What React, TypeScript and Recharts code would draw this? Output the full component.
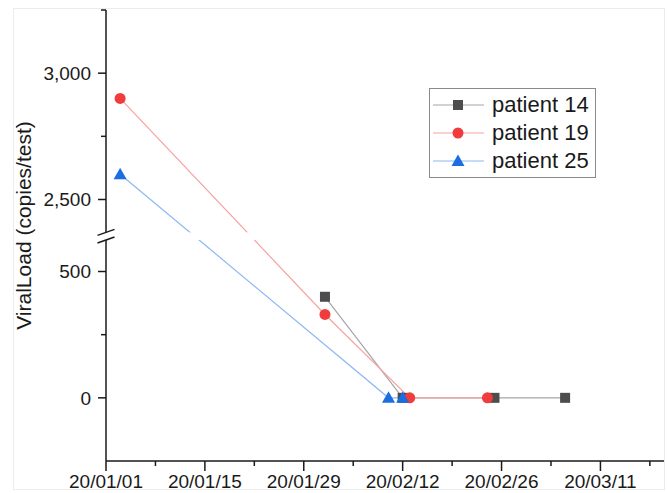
import { LineChart, Line, XAxis, YAxis, ReferenceArea } from "recharts";

// sample dates and viral load (copies/test) per patient
const P14_DATES = ["2020-02-01", "2020-02-12", "2020-02-25", "2020-03-06"];
const P14_LOAD = [400, 0, 0, 0];
const P19_DATES = ["2020-01-03", "2020-02-01", "2020-02-13", "2020-02-24"];
const P19_LOAD = [2900, 330, 0, 0];
const P25_DATES = ["2020-01-03", "2020-02-10", "2020-02-12"];
const P25_LOAD = [2600, 0, 0];

const X_LABELS = ["20/01/01", "20/01/15", "20/01/29", "20/02/12", "20/02/26", "20/03/11"];
const Y_MAJOR = [0, 500, 2500, 3000];
const Y_MINOR = [250, 2750, 3250];

// broken y axis: lower part up to LOW_TOP, upper part from HIGH_BOTTOM
const Y_MIN = -250;
const Y_MAX = 3250;
const LOW_TOP = 625;
const HIGH_BOTTOM = 2370;
const GAP = 30;
const disp = (v: number) => (v <= LOW_TOP ? v : v - HIGH_BOTTOM + LOW_TOP + GAP);
const undisp = (d: number) => (d <= LOW_TOP ? d : d + HIGH_BOTTOM - LOW_TOP - GAP);

const START = Date.UTC(2020, 0, 1);
const toDay = (s: string) => Math.round((Date.parse(s) - START) / 86400000);
const X_END = 79;

const FONT = '"Liberation Sans", Arial, sans-serif';
const INK = "#1a1a1a";

const build = (dates: string[], load: number[]) =>
  dates.map((d, i) => ({ day: toDay(d), v: disp(load[i]) }));

const SERIES = [
  { name: "patient 14", data: build(P14_DATES, P14_LOAD), line: "#a6a6a6", mark: "#4d4d4d", shape: "square" },
  { name: "patient 19", data: build(P19_DATES, P19_LOAD), line: "#f5a3a3", mark: "#f03c3c", shape: "circle" },
  { name: "patient 25", data: build(P25_DATES, P25_LOAD), line: "#8db8f2", mark: "#1c6ee0", shape: "triangle" },
];

function Marker({ shape, cx, cy, fill }: { shape: string; cx: number; cy: number; fill: string }) {
  if (shape === "square") return <rect x={cx - 5} y={cy - 5} width={10} height={10} fill={fill} />;
  if (shape === "circle") return <circle cx={cx} cy={cy} r={5.5} fill={fill} />;
  return <polygon points={`${cx},${cy - 6.5} ${cx + 6.5},${cy + 5} ${cx - 6.5},${cy + 5}`} fill={fill} />;
}

const yTicks = [...Y_MAJOR, ...Y_MINOR].map(disp).sort((a, b) => a - b);
const xTicks = Array.from({ length: Math.floor(X_END / 7) + 1 }, (_, i) => i * 7);

function YTick({ x, y, payload }: any) {
  const real = undisp(payload.value);
  const major = Y_MAJOR.includes(real);
  return (
    <g>
      <line x1={x - (major ? 8 : 5)} x2={x} y1={y} y2={y} stroke={INK} strokeWidth={1.5} />
      {major && (
        <text x={x - 15} y={y} dy="0.36em" textAnchor="end" fontSize={19} fill={INK} fontFamily={FONT}>
          {real.toLocaleString("en-US")}
        </text>
      )}
    </g>
  );
}

function XTick({ x, y, payload }: any) {
  const major = payload.value % 14 === 0;
  return (
    <g>
      <line x1={x} x2={x} y1={y} y2={y + (major ? 10 : 5)} stroke={INK} strokeWidth={1.5} />
      {major && (
        <text x={x} y={y + 27} textAnchor="middle" fontSize={19} fill={INK} fontFamily={FONT}>
          {X_LABELS[payload.value / 14]}
        </text>
      )}
    </g>
  );
}

function BreakMark(props: any) {
  const { x, y, width, height } = props;
  const slash = (yc: number) => (
    <line x1={x - 8.5} y1={yc + 3} x2={x + 8.5} y2={yc - 3} stroke={INK} strokeWidth={1.5} />
  );
  return (
    <g>
      <rect x={x - 4} y={y} width={width + 4} height={height} fill="#fff" />
      {slash(y)}
      {slash(y + height)}
    </g>
  );
}

function LegendBox() {
  return (
    <div
      style={{
        position: "absolute",
        left: 429,
        top: 88,
        border: "1px solid #8a8a8a",
        width: 167,
        height: 90,
        background: "#fff",
        fontFamily: FONT,
        fontSize: 22,
        color: INK,
        paddingTop: 2,
        boxSizing: "border-box",
      }}
    >
      {SERIES.map((s) => (
        <div key={s.name} style={{ display: "flex", alignItems: "center", height: 28 }}>
          <svg width={58} height={28} style={{ flex: "none" }}>
            <line x1={3} x2={54} y1={14} y2={14} stroke={s.line} strokeWidth={1.2} />
            <Marker shape={s.shape} cx={28} cy={14} fill={s.mark} />
          </svg>
          <span style={{ marginLeft: 4, lineHeight: "28px" }}>{s.name}</span>
        </div>
      ))}
    </div>
  );
}

export default function App() {
  return (
    <div style={{ position: "absolute", left: 0, top: 0, width: 667, height: 493, background: "#fff" }}>
      <div
        style={{
          position: "absolute",
          left: 13,
          top: 8,
          width: 652,
          height: 482,
          border: "1px solid #ececec",
          boxSizing: "border-box",
        }}
      />
      <LineChart
        width={667}
        height={493}
        margin={{ top: 10, right: 3, bottom: 0, left: 0 }}
        style={{ position: "absolute", left: 0, top: 0 }}
      >
        <XAxis
          dataKey="day"
          type="number"
          domain={[0, X_END]}
          ticks={xTicks}
          interval={0}
          height={32}
          tickSize={0}
          tickMargin={0}
          tick={<XTick />}
          axisLine={{ stroke: INK, strokeWidth: 1.5 }}
          tickLine={false}
          allowDuplicatedCategory={false}
        />
        <YAxis
          type="number"
          domain={[Y_MIN, disp(Y_MAX)]}
          ticks={yTicks}
          interval={0}
          width={106}
          tickSize={0}
          tickMargin={0}
          tick={<YTick />}
          axisLine={{ stroke: INK, strokeWidth: 1.5 }}
          tickLine={false}
          allowDataOverflow
          label={({ viewBox }: any) => (
            <text
              x={23}
              y={viewBox.y + viewBox.height / 2 - 10}
              transform={`rotate(-90, 23, ${viewBox.y + viewBox.height / 2 - 10})`}
              textAnchor="middle"
              dominantBaseline="central"
              fontSize={21}
              fill={INK}
              fontFamily={FONT}
            >
              ViralLoad (copies/test)
            </text>
          )}
        />
        {SERIES.map((s) => (
          <Line
            key={s.name}
            name={s.name}
            data={s.data}
            dataKey="v"
            stroke={s.line}
            strokeWidth={1.2}
            isAnimationActive={false}
            dot={(p: any) => <Marker key={p.index} shape={s.shape} cx={p.cx} cy={p.cy} fill={s.mark} />}
            activeDot={false}
          />
        ))}
        <ReferenceArea
          y1={disp(LOW_TOP)}
          y2={disp(HIGH_BOTTOM)}
          ifOverflow="visible"
          shape={<BreakMark />}
          zIndex={1000}
        />
      </LineChart>
      <LegendBox />
    </div>
  );
}
